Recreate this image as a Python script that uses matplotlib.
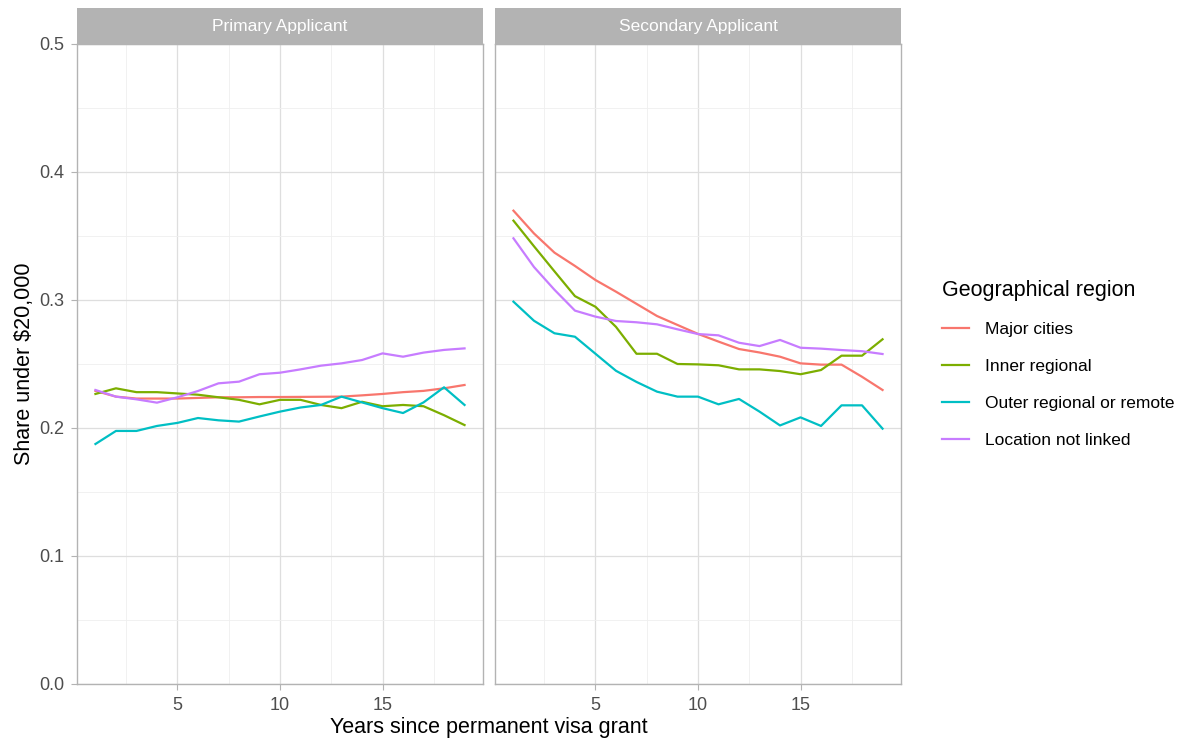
import numpy as np
import matplotlib.pyplot as plt
from matplotlib.ticker import MultipleLocator

plt.rcParams['font.family'] = ['Liberation Sans', 'DejaVu Sans']

years = list(range(1, 20))
panels = ["Primary Applicant", "Secondary Applicant"]
regions = ["Major cities", "Inner regional", "Outer regional or remote", "Location not linked"]
colors = ["#F8766D", "#7CAE00", "#00BFC4", "#C77CFF"]

# primary applicant
primary_major = [0.229, 0.2245, 0.223, 0.223, 0.223, 0.2235, 0.224, 0.224, 0.2242, 0.2242, 0.2243,
                 0.2244, 0.2245, 0.2255, 0.2266, 0.228, 0.229, 0.231, 0.2336]
primary_inner = [0.2266, 0.231, 0.228, 0.228, 0.227, 0.226, 0.224, 0.222, 0.2185, 0.222, 0.222,
                 0.218, 0.2155, 0.2205, 0.217, 0.218, 0.217, 0.210, 0.2023]
primary_outer = [0.1875, 0.1977, 0.1977, 0.2016, 0.204, 0.2078, 0.206, 0.205, 0.209, 0.2128, 0.216,
                 0.218, 0.2245, 0.220, 0.2155, 0.2117, 0.220, 0.2318, 0.218]
primary_notlinked = [0.2297, 0.2245, 0.2224, 0.2198, 0.224, 0.2289, 0.2349, 0.2362, 0.242, 0.2432, 0.2458,
                     0.2487, 0.2505, 0.2531, 0.2583, 0.2557, 0.2589, 0.261, 0.2622]

# secondary applicant
secondary_major = [0.3698, 0.352, 0.337, 0.3266, 0.3156, 0.3065, 0.297, 0.2875, 0.2805, 0.2735, 0.2675,
                   0.2617, 0.259, 0.2557, 0.2505, 0.2495, 0.2495, 0.240, 0.2297]
secondary_inner = [0.362, 0.342, 0.3224, 0.303, 0.2947, 0.279, 0.258, 0.258, 0.250, 0.2497, 0.249,
                   0.2458, 0.2458, 0.2445, 0.242, 0.2453, 0.2565, 0.2565, 0.2693]
secondary_outer = [0.2987, 0.2838, 0.274, 0.2713, 0.258, 0.2447, 0.236, 0.2284, 0.2245, 0.2245, 0.2185,
                   0.2227, 0.2128, 0.202, 0.2083, 0.2016, 0.2177, 0.2177, 0.1995]
secondary_notlinked = [0.3482, 0.3258, 0.308, 0.2917, 0.287, 0.2836, 0.2826, 0.281, 0.2771, 0.2734, 0.2724,
                       0.2666, 0.264, 0.2688, 0.2627, 0.262, 0.2609, 0.260, 0.2578]

data = {
    "Primary Applicant": [primary_major, primary_inner, primary_outer, primary_notlinked],
    "Secondary Applicant": [secondary_major, secondary_inner, secondary_outer, secondary_notlinked],
}

fig = plt.figure(figsize=(11.92, 7.42), dpi=100)
W, H = 1192, 742
lefts = [77, 495]
pw = 406
top, bottom = 44, 684
strip_h = 36

for i, name in enumerate(panels):
    ax = fig.add_axes([lefts[i] / W, (H - bottom) / H, pw / W, (bottom - top) / H])
    for vals, c, lab in zip(data[name], colors, regions):
        ax.plot(years, vals, color=c, lw=1.6, label=lab)
    ax.set_xlim(0.1, 19.9)
    ax.set_ylim(0, 0.5)
    ax.xaxis.set_major_locator(MultipleLocator(5))
    ax.xaxis.set_minor_locator(MultipleLocator(2.5))
    ax.yaxis.set_major_locator(MultipleLocator(0.1))
    ax.yaxis.set_minor_locator(MultipleLocator(0.05))
    ax.grid(which='major', color='#DEDEDE', lw=0.9)
    ax.grid(which='minor', color='#EFEFEF', lw=0.6)
    ax.set_axisbelow(True)
    for s in ax.spines.values():
        s.set_color('#B3B3B3')
        s.set_linewidth(1.0)
    ax.tick_params(which='major', length=4, color='#B3B3B3', labelsize=13, labelcolor='#4D4D4D', pad=5)
    ax.tick_params(which='minor', length=0)
    if i == 0:
        ax.yaxis.set_major_formatter(plt.FuncFormatter(lambda v, p: f"{v:.1f}"))
        ax.set_ylabel("Share under $20,000", fontsize=15.5, color='black', labelpad=3)
    else:
        ax.tick_params(axis='y', which='both', length=0, labelleft=False)
    # strip
    sax = fig.add_axes([lefts[i] / W, (H - top) / H, pw / W, strip_h / H])
    sax.set_facecolor('#B3B3B3')
    sax.set_xticks([])
    sax.set_yticks([])
    for s in sax.spines.values():
        s.set_visible(False)
    sax.text(0.5, 0.5, name, color='white', fontsize=12.5, ha='center', va='center',
             transform=sax.transAxes)
    if i == 1:
        handles, labels = ax.get_legend_handles_labels()

fig.text((77 + 901) / 2 / W, 1 - 728 / H, "Years since permanent visa grant",
         ha='center', va='center', fontsize=15.5)

leg = fig.legend(handles, labels, loc='upper left', bbox_to_anchor=(926 / W, 1 - 264 / H),
                 frameon=False, title="Geographical region", fontsize=12.5,
                 title_fontsize=15.5, handlelength=1.6, labelspacing=1.25, handletextpad=0.9,
                 alignment='left')

fig.savefig("out.png", dpi=100)
